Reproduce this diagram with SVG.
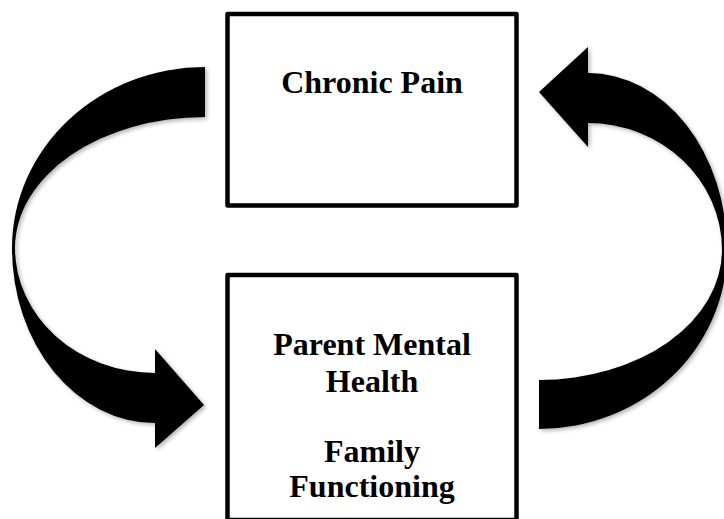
<svg xmlns="http://www.w3.org/2000/svg" width="724" height="519" viewBox="0 0 724 519">
  <style>
    .box { fill: #ffffff; stroke: #000000; stroke-width: 4.5; stroke-linejoin: round; }
    .label { font-family: "Liberation Serif", "Times New Roman", serif; font-weight: bold; font-size: 32px; fill: #000000; text-anchor: middle; }
    .arrow { fill: #000000; filter: url(#shadow); }
  </style>
  <defs>
    <filter id="shadow" x="-10%" y="-10%" width="130%" height="130%">
      <feGaussianBlur in="SourceAlpha" stdDeviation="2"/>
      <feOffset dx="2" dy="2" result="b"/>
      <feComponentTransfer><feFuncA type="linear" slope="0.3"/></feComponentTransfer>
      <feMerge><feMergeNode/><feMergeNode in="SourceGraphic"/></feMerge>
    </filter>
  </defs>
  <rect width="724" height="519" fill="#ffffff"/>
  <g id="connectors">
    <path id="arrow-left" class="arrow" d="M205,67 A193,181 0 0 0 12,248 A143,175 0 0 0 155,423 L155,448 L204,405 L155,349 L155,373 A140,125 0 0 1 15,248 A190,131 0 0 1 205,117 Z"/>
    <path id="arrow-right" class="arrow" d="M539,429 A188,179 0 0 0 727,250 A139,177 0 0 0 588,73 L588,47 L539,92 L588,147 L588,123 A134,127 0 0 1 722,250 A183,130 0 0 1 539,380 Z"/>
  </g>
  <g id="node-chronic-pain">
    <rect class="box" x="227.5" y="14" width="289" height="191.5"/>
    <text class="label" x="372" y="93">Chronic Pain</text>
  </g>
  <g id="node-parent-family">
    <rect class="box" x="227.5" y="275" width="289" height="245"/>
    <text class="label" x="372" y="355">Parent Mental</text>
    <text class="label" x="372" y="392">Health</text>
    <text class="label" x="372" y="462">Family</text>
    <text class="label" x="372" y="497">Functioning</text>
  </g>
</svg>
